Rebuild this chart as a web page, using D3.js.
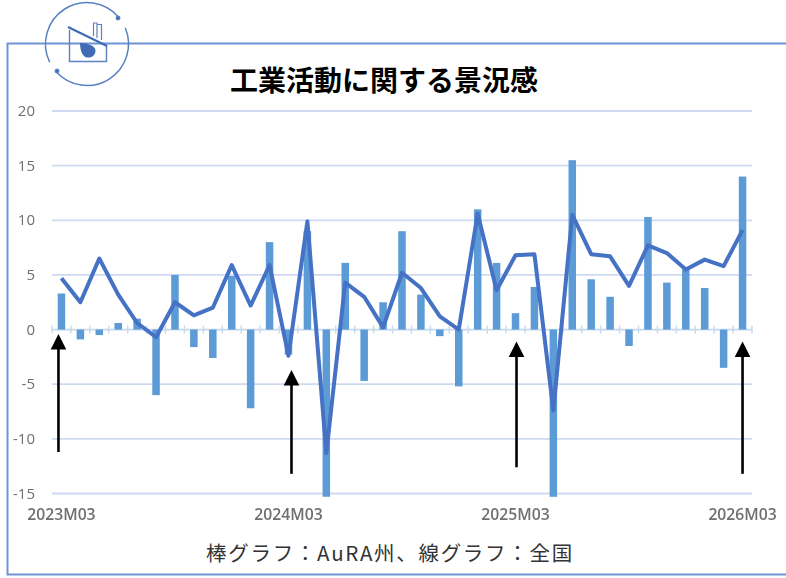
<!DOCTYPE html>
<html><head><meta charset="utf-8">
<style>html,body{margin:0;padding:0;background:#fff}svg{display:block}</style>
<script src="https://cdn.jsdelivr.net/npm/d3@7/dist/d3.min.js"></script></head><body>
<script>
const categories=["2023M03","2023M04","2023M05","2023M06","2023M07","2023M08","2023M09","2023M10","2023M11","2023M12","2024M01","2024M02","2024M03","2024M04","2024M05","2024M06","2024M07","2024M08","2024M09","2024M10","2024M11","2024M12","2025M01","2025M02","2025M03","2025M04","2025M05","2025M06","2025M07","2025M08","2025M09","2025M10","2025M11","2025M12","2026M01","2026M02","2026M03"];
const barValues=[3.3,-0.9,-0.5,0.6,1.0,-6.0,5.0,-1.6,-2.6,4.9,-7.2,8.0,-2.3,9.0,-15.3,6.1,-4.7,2.5,9.0,3.2,-0.6,-5.2,11.0,6.1,1.5,3.9,-15.3,15.5,4.6,3.0,-1.5,10.3,4.3,5.5,3.8,-3.5,14.0];
const lineValues=[4.7,2.5,6.5,3.2,0.6,-0.7,2.5,1.3,2.0,5.9,2.2,5.9,-2.4,9.9,-11.3,4.3,3.0,0.2,5.2,3.8,1.2,0.0,10.6,3.6,6.8,6.9,-7.4,10.5,6.9,6.7,4.0,7.7,7.0,5.5,6.4,5.8,9.1];
const yTicks=[20,15,10,5,-5,-10,-15];
const xLabels=["2023M03","2024M03","2025M03","2026M03"];
const arrowCats=["2023M03","2024M03","2025M03","2026M03"];
const arrowTips=[-0.4,-3.7,-1.1,-1.1];
const arrowTails=[-11.2,-13.2,-12.6,-13.2];
const arrowOffsets=[-3,3,1,0];
const titleText="工業活動に関する景況感";
const noteText="棒グラフ\uFF1AAuRA州、線グラフ\uFF1A全国";

const W=786,H=578;
const svg=d3.select("body").append("svg").attr("width",W).attr("height",H).attr("viewBox",[0,0,W,H]);
const defs=svg.append("defs");
defs.append("filter").attr("id","soft").append("feGaussianBlur").attr("stdDeviation",0.45);
const x=d3.scaleBand().domain(categories).range([52,752]).paddingInner(0).paddingOuter(0);
const y=d3.scaleLinear().domain([-15,20]).range([493.5,111]);
const barW=7.5, cx=d=>x(d)+x.bandwidth()/2;
const font='"Open Sans","Noto Sans",sans-serif', cjk='"Noto Sans CJK JP",sans-serif';

// frame
svg.append("path").attr("d",`M786,43.5H7.5V574.5H786`).attr("fill","none").attr("stroke","#6f93d6").attr("stroke-width",2).attr("filter","url(#soft)");

// logo
const logo=svg.append("g").attr("fill","none").attr("stroke","#5a82c2").attr("filter","url(#soft)");
logo.append("g").attr("transform","translate(87,44)").selectAll("path").data([[1.17,3.98],[4.26,7.15]]).join("path")
  .attr("d",d=>d3.arc()({innerRadius:41.5,outerRadius:41.5,startAngle:d[0],endAngle:d[1]})).attr("stroke-width",1.5);
logo.append("circle").attr("cx",118).attr("cy",18).attr("r",2).attr("fill","#3f6cb5");
logo.append("circle").attr("cx",57).attr("cy",71).attr("r",2).attr("fill","#3f6cb5");
logo.append("path").attr("d","M69.5,30V61.5H106.5V45").attr("stroke-width",1.4);
logo.append("path").attr("d","M68,27L107,46").attr("stroke-width",2.2).attr("stroke","#3f6cb5");
logo.append("path").attr("d","M93.5,36V23H97V38M97.5,24.5H101.5V40").attr("stroke-width",1.2);
logo.append("path").attr("d","M80,43C88,43 96,46 95.5,51C95,58 87,59 84,56C81,53 80,48 80,43Z").attr("fill","#3f6cb5").attr("stroke","none");

// title
svg.append("text").attr("x",384).attr("y",91).attr("text-anchor","middle").attr("font-family",cjk).attr("font-weight",700).attr("font-size",28).attr("fill","#000").text(titleText);

// grid
const g=svg.append("g");
g.selectAll("line.grid").data(yTicks).join("line").attr("class","grid")
 .attr("x1",52).attr("x2",752).attr("y1",d=>y(d)).attr("y2",d=>y(d)).attr("stroke","#cddaf2").attr("stroke-width",1.8);

// zero axis
const tickEdges=categories.map(c=>x(c)).concat([752]);
const ax=g.append("g");
ax.append("line").attr("x1",52).attr("x2",752).attr("y1",y(0)).attr("y2",y(0)).attr("stroke","#c5d9ef").attr("stroke-width",1.8);
ax.selectAll("line.t").data(tickEdges).join("line").attr("class","t").attr("x1",d=>d).attr("x2",d=>d).attr("y1",y(0)-4).attr("y2",y(0)+4).attr("stroke","#c5d9ef").attr("stroke-width",1.4);

// bars
g.append("g").attr("filter","url(#soft)").selectAll("rect").data(barValues).join("rect")
 .attr("x",(d,i)=>cx(categories[i])-barW/2).attr("width",barW)
 .attr("y",d=>Math.min(y(d),y(0))).attr("height",d=>Math.abs(y(d)-y(0))).attr("fill","#5b9bd5");

// line
g.append("path").datum(lineValues).attr("filter","url(#soft)")
 .attr("d",d3.line().x((d,i)=>cx(categories[i])).y(d=>y(d))).attr("fill","none").attr("stroke","#4472c4").attr("stroke-width",4).attr("stroke-linejoin","round");

// y labels
svg.append("g").attr("filter","url(#soft)").selectAll("text").data(yTicks.concat([0])).join("text")
 .attr("x",35).attr("y",d=>y(d)+5).attr("text-anchor","end").attr("font-family",font).attr("font-size",15).attr("fill","#6f6f6f").text(d=>d);
// x labels
svg.append("g").attr("filter","url(#soft)").selectAll("text").data(xLabels).join("text")
 .attr("x",d=>cx(d)).attr("y",520).attr("text-anchor","middle").attr("font-family",font).attr("font-size",15.7).attr("font-weight",600).attr("fill","#6f6f6f").text(d=>d);

// arrows
const arrows=svg.append("g").selectAll("g").data(arrowCats).join("g");
const ax2=(d,i)=>cx(d)+arrowOffsets[i];
arrows.append("line").attr("x1",ax2).attr("x2",ax2).attr("y1",(d,i)=>y(arrowTips[i])+12).attr("y2",(d,i)=>y(arrowTails[i])).attr("stroke","#000").attr("stroke-width",2.6);
arrows.append("path").attr("d",(d,i)=>{const a=ax2(d,i),b=y(arrowTips[i]);return `M${a},${b}L${a+7.8},${b+15.5}H${a-7.8}Z`}).attr("fill","#000");

// note
svg.append("text").attr("x",390).attr("y",561).attr("text-anchor","middle").attr("font-family",cjk).attr("font-size",20.5).attr("letter-spacing",1.7).attr("fill","#333").text(noteText);
</script></body></html>
